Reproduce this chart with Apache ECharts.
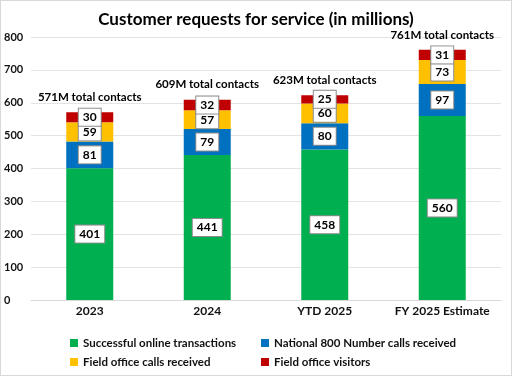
<!DOCTYPE html>
<html>
<head>
<meta charset="utf-8">
<script src="https://cdn.jsdelivr.net/npm/echarts@6/dist/echarts.min.js"></script>
<style>
  html, body { margin: 0; padding: 0; background: #fff; }
  #chart { width: 510px; height: 374px; border: 1px solid #d9d9d9; }
</style>
</head>
<body>
<div id="chart"></div>
<script>
const categories = ['2023', '2024', 'YTD 2025', 'FY 2025 Estimate'];
const online = [401, 441, 458, 560];
const national800 = [81, 79, 80, 97];
const fieldCalls = [59, 57, 60, 73];
const fieldVisitors = [30, 32, 25, 31];
const totals = [571, 609, 623, 761];
const yTicks = [0, 100, 200, 300, 400, 500, 600, 700, 800];

const font = 'Lato, "Noto Sans", sans-serif';
const colors = ['#00b050', '#0070c0', '#ffc000', '#c00000'];
const names = ['Successful online transactions', 'National 800 Number calls received',
  'Field office calls received', 'Field office visitors'];

const boxLabel = {
  show: true,
  position: 'inside',
  color: '#000',
  fontWeight: 'bold',
  fontSize: 12,
  fontFamily: font,
  backgroundColor: '#fff',
  borderColor: '#8c8c8c',
  borderWidth: 1,
  padding: [3, 4, 2, 4]
};

function seg(i, data) {
  return {
    name: names[i],
    type: 'bar',
    stack: 'all',
    barWidth: '40%',
    data: data,
    itemStyle: { color: colors[i] },
    label: boxLabel
  };
}

const chart = echarts.init(document.getElementById('chart'));
chart.setOption({
  animation: false,
  textStyle: { fontFamily: font },
  title: {
    text: 'Customer requests for service (in millions)',
    left: 'center',
    top: 5,
    textStyle: { fontSize: 17, fontWeight: 'bold', color: '#000', fontFamily: font }
  },
  legend: [0, 1, 2, 3].map(i => ({
    data: [names[i]],
    left: i % 2 === 0 ? 64 : 255,
    top: i < 2 ? 331 : 350,
    itemWidth: 8,
    itemHeight: 8,
    icon: 'rect',
    itemGap: 4,
    textStyle: { fontSize: 11.5, color: '#111', fontFamily: font, fontWeight: 'bold' }
  })),
  grid: { left: 30, right: 10, top: 36, bottom: 75 },
  xAxis: {
    type: 'category',
    data: categories,
    axisTick: { show: false },
    axisLine: { lineStyle: { color: '#d9d9d9' } },
    axisLabel: { interval: 0, color: '#111', fontSize: 12, fontWeight: 'bold', margin: 5 }
  },
  yAxis: {
    type: 'value',
    min: yTicks[0],
    max: yTicks[yTicks.length - 1],
    interval: 100,
    splitLine: { lineStyle: { color: '#e3e3e3' } },
    axisLabel: { color: '#111', fontSize: 11, fontWeight: 'bold', margin: 27, align: 'left' }
  },
  series: [
    seg(0, online),
    seg(1, national800),
    seg(2, fieldCalls),
    seg(3, fieldVisitors),
    {
      name: 'total',
      type: 'bar',
      stack: 'all',
      barWidth: '40%',
      data: totals.map(() => 0),
      itemStyle: { color: 'transparent' },
      label: {
        show: true,
        position: 'top',
        distance: 9,
        color: '#000',
        fontSize: 11.5,
        fontWeight: 'bold',
        fontFamily: font,
        formatter: p => totals[p.dataIndex] + 'M total contacts'
      }
    }
  ]
});
</script>
</body>
</html>
